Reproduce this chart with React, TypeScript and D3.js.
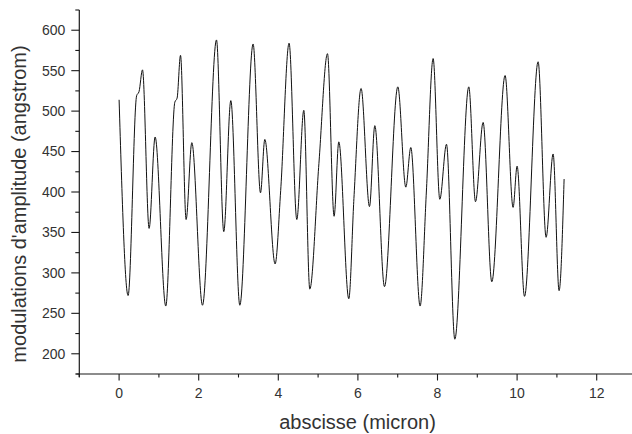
import React from "react";
import * as d3 from "d3";

// abscissa (micron) and amplitude modulation (angstrom)
const xValues = [
  0.0, 0.226, 0.44, 0.5, 0.588, 0.754, 0.905, 1.173, 1.4, 1.457, 1.543, 1.684, 1.827, 2.095,
  2.447, 2.63, 2.807, 3.033, 3.367, 3.553, 3.661, 3.92, 4.06, 4.271, 4.465, 4.641, 4.791,
  5.02, 5.236, 5.402, 5.52, 5.771, 5.9, 6.08, 6.291, 6.425, 6.668, 7.003, 7.204, 7.329,
  7.563, 7.72, 7.89, 8.058, 8.226, 8.435, 8.786, 8.955, 9.146, 9.364, 9.698, 9.899, 10.0,
  10.186, 10.528, 10.729, 10.905, 11.055, 11.181,
];
const yValues = [
  514, 272, 519, 524, 551, 355, 468, 259, 511, 516, 569, 366, 461, 260,
  588, 351, 513, 260, 583, 399, 465, 311, 402, 584, 366, 501, 280,
  435, 571, 370, 462, 268, 392, 528, 382, 482, 283, 530, 406, 455,
  259, 400, 565, 391, 459, 218, 530, 388, 486, 289, 544, 381, 432,
  271, 561, 344, 447, 278, 416,
];

const xMajorTicks = [0, 2, 4, 6, 8, 10, 12];
const xMinorTicks = [-1, 1, 3, 5, 7, 9, 11, 13];
const yMajorTicks = [200, 250, 300, 350, 400, 450, 500, 550, 600];
const yMinorTicks = [175, 225, 275, 325, 375, 425, 475, 525, 575, 625];

const xTitle = "abscisse (micron)";
const yTitle = "modulations d'amplitude (angstrom)";

export default function App() {
  const W = 632;
  const H = 434;
  const x = d3.scaleLinear().domain([-1, 13]).range([79.3, 636.5]);
  const y = d3.scaleLinear().domain([175, 625]).range([374, 10]);

  const pts: [number, number][] = xValues.map((v, i) => [v, yValues[i]]);
  const line = d3
    .line<[number, number]>()
    .x((d) => x(d[0]))
    .y((d) => y(d[1]))
    .curve(d3.curveMonotoneX);

  const axisColor = "#1a1a1a";
  const textColor = "#333";
  const font = "'Liberation Sans', Arial, Helvetica, sans-serif";
  const x0 = x(-1);
  const yb = y(175);

  return (
    <svg
      width={W}
      height={H}
      style={{ position: "fixed", left: 0, top: 0, background: "#fff" }}
      fontFamily={font}
    >
      <rect x={0} y={0} width={W} height={H} fill="#fff" />
      {/* axes lines */}
      <line x1={x0} x2={x0} y1={y(625)} y2={yb + 3} stroke={axisColor} strokeWidth={1.2} />
      <line x1={x0 - 3} x2={W} y1={yb} y2={yb} stroke={axisColor} strokeWidth={1.2} />
      {/* y ticks */}
      {yMajorTicks.map((t) => (
        <g key={"ym" + t}>
          <line x1={x0 - 8} x2={x0} y1={y(t)} y2={y(t)} stroke={axisColor} strokeWidth={1.1} />
          <text
            x={x0 - 14}
            y={y(t)}
            dy="0.35em"
            textAnchor="end"
            fontSize={14}
            fill={textColor}
          >
            {t}
          </text>
        </g>
      ))}
      {yMinorTicks.map((t) => (
        <line key={"yn" + t} x1={x0 - 4} x2={x0} y1={y(t)} y2={y(t)} stroke={axisColor} strokeWidth={1.1} />
      ))}
      {/* x ticks */}
      {xMajorTicks.map((t) => (
        <g key={"xm" + t}>
          <line x1={x(t)} x2={x(t)} y1={yb} y2={yb + 6.5} stroke={axisColor} strokeWidth={1.1} />
          <text x={x(t)} y={398} textAnchor="middle" fontSize={14} fill={textColor}>
            {t}
          </text>
        </g>
      ))}
      {xMinorTicks.map((t) => (
        <line key={"xn" + t} x1={x(t)} x2={x(t)} y1={yb} y2={yb + 3.5} stroke={axisColor} strokeWidth={1.1} />
      ))}
      {/* titles */}
      <text x={357.5} y={429} textAnchor="middle" fontSize={20} fill={textColor}>
        {xTitle}
      </text>
      <text
        transform={`translate(26, 204) rotate(-90)`}
        textAnchor="middle"
        fontSize={20}
        fill={textColor}
      >
        {yTitle}
      </text>
      {/* curve */}
      <path d={line(pts) || ""} fill="none" stroke="#111" strokeWidth={1} />
    </svg>
  );
}
